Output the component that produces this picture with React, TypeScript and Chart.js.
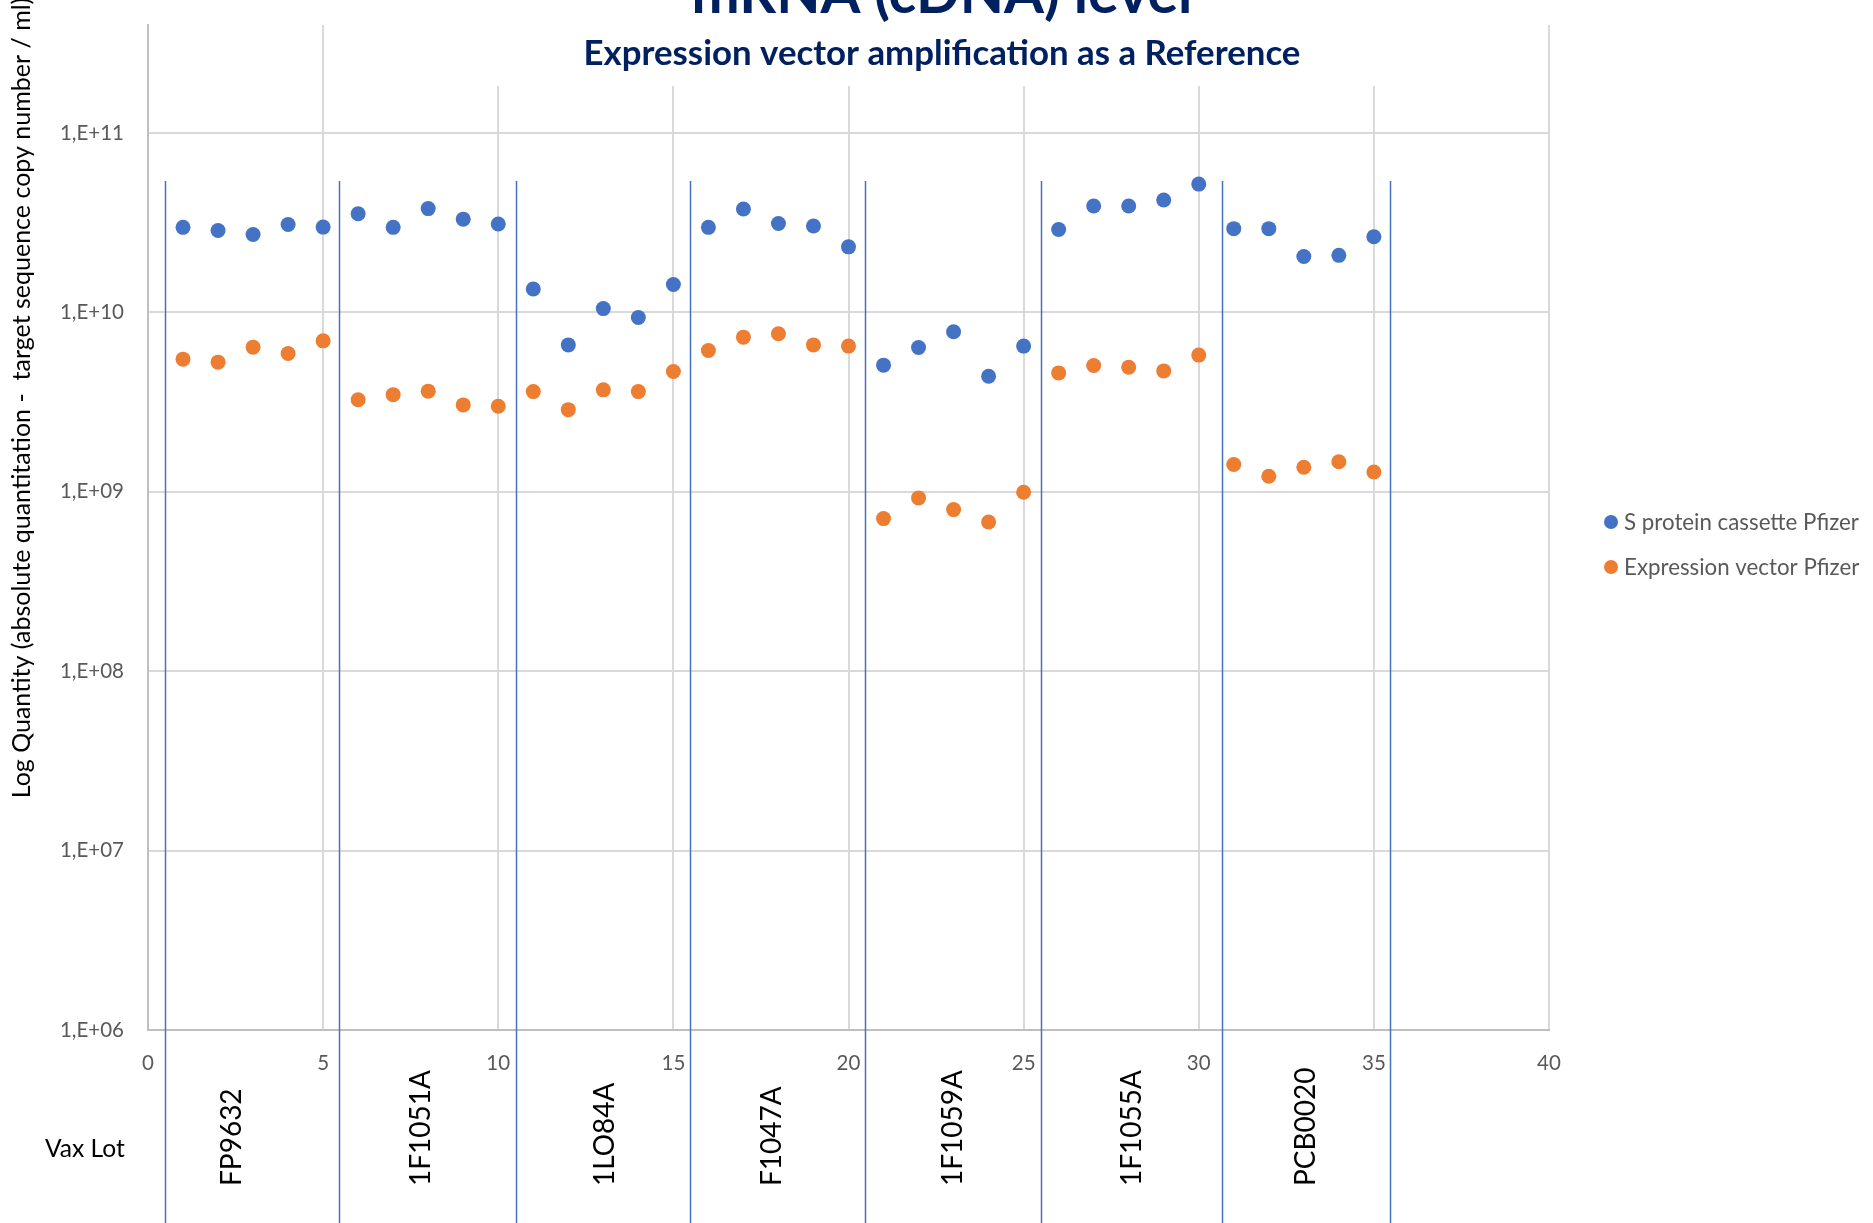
import React, { useEffect, useRef } from 'react';
import { Chart, registerables } from 'chart.js';

Chart.register(...registerables);

// ---------- data ----------
const sampleNumbers = [
  1, 2, 3, 4, 5, 6, 7, 8, 9, 10, 11, 12, 13, 14, 15, 16, 17, 18, 19, 20,
  21, 22, 23, 24, 25, 26, 27, 28, 29, 30, 31, 32, 33, 34, 35,
];
const sProteinCassette = [
  2.98e10, 2.86e10, 2.72e10, 3.09e10, 2.99e10,
  3.55e10, 2.98e10, 3.79e10, 3.31e10, 3.11e10,
  1.35e10, 6.59e9, 1.05e10, 9.37e9, 1.43e10,
  2.98e10, 3.77e10, 3.13e10, 3.03e10, 2.32e10,
  5.08e9, 6.37e9, 7.8e9, 4.41e9, 6.49e9,
  2.9e10, 3.92e10, 3.92e10, 4.23e10, 5.19e10,
  2.93e10, 2.93e10, 2.05e10, 2.08e10, 2.64e10,
];
const expressionVector = [
  5.49e9, 5.28e9, 6.4e9, 5.9e9, 6.94e9,
  3.26e9, 3.48e9, 3.64e9, 3.05e9, 3.0e9,
  3.62e9, 2.87e9, 3.7e9, 3.62e9, 4.68e9,
  6.13e9, 7.28e9, 7.6e9, 6.59e9, 6.49e9,
  7.09e8, 9.25e8, 7.96e8, 6.79e8, 9.95e8,
  4.6e9, 5.06e9, 4.95e9, 4.72e9, 5.78e9,
  1.42e9, 1.22e9, 1.37e9, 1.47e9, 1.29e9,
];
const seriesNames = ['S protein cassette Pfizer', 'Expression vector Pfizer'];
const lotNames = ['FP9632', '1F1051A', '1LO84A', 'F1047A', '1F1059A', '1F1055A', 'PCB0020'];
const lotLabelCenters = [2.4, 7.79, 13.05, 17.82, 22.98, 28.09, 33.06];
const lotBoundaries = [0.485, 5.44, 10.51, 15.47, 20.47, 25.5, 30.66, 35.46];
const lotLineTopValue = 5.4e10;
const yTickValues = [1e6, 1e7, 1e8, 1e9, 1e10, 1e11];
const yMin = 1e6;
const yMax = 4.0e11;
const xMin = 0;
const xMax = 40;
const xStep = 5;

const titleText = 'mRNA (cDNA) level';
const subtitleText = 'Expression vector amplification as a Reference';
const yTitleText = 'Log Quantity (absolute quantitation -  target sequence copy number / ml)';
const lotAxisText = 'Vax Lot';

// ---------- styles ----------
const W = 1873;
const H = 1223;
const BLUE = '#4472C4';
const ORANGE = '#ED7D31';
const NAVY = '#002060';
const GREY_TEXT = '#595959';
const FONT = 'Lato, "Open Sans", sans-serif';

function fmtTick(v: number): string {
  const e = Math.round(Math.log10(v));
  return '1,E+' + String(e).padStart(2, '0');
}

const overlayPlugin = {
  id: 'overlay',
  beforeDatasetsDraw(chart: any) {
    const ctx = chart.ctx;
    const xs = chart.scales.x;
    const ys = chart.scales.y;
    ctx.save();
    ctx.strokeStyle = BLUE;
    ctx.lineWidth = 1.5;
    const top = ys.getPixelForValue(lotLineTopValue);
    lotBoundaries.forEach((b) => {
      const px = Math.round(xs.getPixelForValue(b)) + 0.5;
      ctx.beginPath();
      ctx.moveTo(px, top);
      ctx.lineTo(px, chart.height);
      ctx.stroke();
    });
    ctx.restore();
  },
  afterDraw(chart: any) {
    const ctx = chart.ctx;
    const xs = chart.scales.x;
    ctx.save();
    // title box (covers gridlines like Excel's title frame)
    ctx.fillStyle = '#ffffff';
    ctx.fillRect(420, 0, 1045, 86);

    ctx.fillStyle = NAVY;
    ctx.textAlign = 'center';
    ctx.textBaseline = 'alphabetic';
    ctx.font = `bold 57.5px ${FONT}`;
    ctx.fillText(titleText, 942, 13);
    ctx.font = `bold 34.8px ${FONT}`;
    ctx.fillText(subtitleText, 942, 65);

    // y-axis title
    ctx.save();
    ctx.translate(30, 398);
    ctx.rotate(-Math.PI / 2);
    ctx.fillStyle = '#000000';
    ctx.font = `25px ${FONT}`;
    ctx.textAlign = 'center';
    ctx.textBaseline = 'alphabetic';
    ctx.fillText(yTitleText, 0, 0);
    ctx.restore();

    // legend
    const legendColors = [BLUE, ORANGE];
    const legendY = [522, 567];
    seriesNames.forEach((name, i) => {
      ctx.fillStyle = legendColors[i];
      ctx.beginPath();
      ctx.arc(1611, legendY[i], 7, 0, Math.PI * 2);
      ctx.fill();
      ctx.fillStyle = GREY_TEXT;
      ctx.font = `22.3px ${FONT}`;
      ctx.textAlign = 'left';
      ctx.textBaseline = 'middle';
      ctx.fillText(name, 1624, legendY[i] + 1);
    });

    // lot labels
    ctx.fillStyle = '#000000';
    ctx.font = `28px ${FONT}`;
    lotNames.forEach((name, i) => {
      const px = xs.getPixelForValue(lotLabelCenters[i]);
      ctx.save();
      ctx.translate(px, 1186);
      ctx.rotate(-Math.PI / 2);
      ctx.textAlign = 'left';
      ctx.textBaseline = 'middle';
      ctx.fillText(name, 0, 0);
      ctx.restore();
    });

    ctx.font = `24.6px ${FONT}`;
    ctx.textAlign = 'left';
    ctx.textBaseline = 'alphabetic';
    ctx.fillText(lotAxisText, 45, 1157);
    ctx.restore();
  },
};

export default function App() {
  const canvasRef = useRef<HTMLCanvasElement | null>(null);

  useEffect(() => {
    const canvas = canvasRef.current;
    if (!canvas) return;
    const chart = new Chart(canvas, {
      type: 'scatter',
      data: {
        datasets: [
          {
            label: seriesNames[0],
            data: sampleNumbers.map((x, i) => ({ x, y: sProteinCassette[i] })),
            backgroundColor: BLUE,
            borderWidth: 0,
            pointRadius: 7.5,
            pointHoverRadius: 7.5,
          },
          {
            label: seriesNames[1],
            data: sampleNumbers.map((x, i) => ({ x, y: expressionVector[i] })),
            backgroundColor: ORANGE,
            borderWidth: 0,
            pointRadius: 7.5,
            pointHoverRadius: 7.5,
          },
        ],
      },
      options: {
        responsive: false,
        animation: false,
        devicePixelRatio: 1,
        events: [],
        layout: { padding: { top: 25, right: 324, bottom: 0, left: 0 } },
        plugins: {
          legend: { display: false },
          title: { display: false },
          tooltip: { enabled: false },
        },
        scales: {
          x: {
            type: 'linear',
            min: xMin,
            max: xMax,
            afterFit: (s: any) => {
              s.height = 193;
              s.paddingLeft = 0;
              s.paddingRight = 0;
            },
            ticks: {
              stepSize: xStep,
              padding: 21,
              color: GREY_TEXT,
              font: { family: FONT, size: 20.5 },
            },
            grid: { color: '#d9d9d9', lineWidth: 2, drawTicks: false },
            border: { color: '#bfbfbf', width: 2 },
          },
          y: {
            type: 'logarithmic',
            min: yMin,
            max: yMax,
            afterFit: (s: any) => {
              s.width = 148;
              s.paddingTop = 0;
              s.paddingBottom = 0;
            },
            afterBuildTicks: (s: any) => {
              s.ticks = yTickValues.map((v) => ({ value: v }));
            },
            ticks: {
              padding: 24,
              color: GREY_TEXT,
              font: { family: FONT, size: 20.5 },
              callback: (v: any) => fmtTick(Number(v)),
            },
            grid: { color: '#d9d9d9', lineWidth: 2, drawTicks: false },
            border: { color: '#bfbfbf', width: 2 },
          },
        },
      } as any,
      plugins: [overlayPlugin],
    });
    let alive = true;
    if ((document as any).fonts && (document as any).fonts.load) {
      Promise.all([
        (document as any).fonts.load('18px Lato'),
        (document as any).fonts.load('bold 29px Lato'),
      ]).then(() => {
        if (alive) chart.update();
      }).catch(() => {});
    }
    return () => {
      alive = false;
      chart.destroy();
    };
  }, []);

  return (
    <div
      style={{
        position: 'absolute',
        left: 0,
        top: 0,
        width: W,
        height: H,
        overflow: 'hidden',
        background: '#ffffff',
      }}
    >
      <canvas ref={canvasRef} width={W} height={H} style={{ width: W, height: H, display: 'block' }} />
    </div>
  );
}
